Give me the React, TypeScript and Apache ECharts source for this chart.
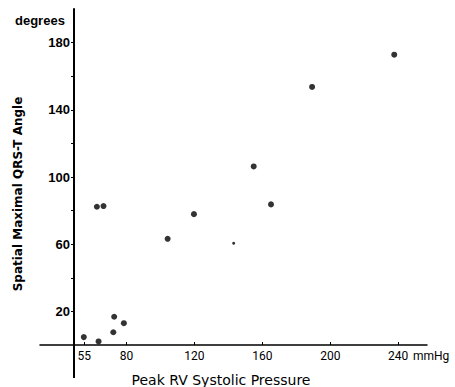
import React, { useEffect, useRef } from "react";
import * as echarts from "echarts";

const pressure = [54.8, 63.5, 72.7, 72.2, 78.4, 62.5, 66.4, 119.7, 104.2, 154.9, 165.1, 189.3, 237.7];
const angle = [4.7, 2.1, 16.8, 7.6, 13.0, 82.3, 82.7, 77.9, 63.2, 106.3, 83.7, 153.6, 172.8];
const smallPressure = [143.1];
const smallAngle = [60.6];
const xTickValues = [55, 80, 120, 160, 200, 240];
const yLabelValues = [20, 60, 100, 140, 180];
const yTickValues = [20, 40, 60, 80, 100, 120, 140, 160, 180];

export default function App() {
  const ref = useRef<HTMLDivElement>(null);
  useEffect(() => {
    if (!ref.current) return;
    const chart = echarts.init(ref.current, null, { renderer: "svg" });
    const main = pressure.map((p, i) => [p, angle[i]]);
    const small = smallPressure.map((p, i) => [p, smallAngle[i]]);
    chart.setOption({
      animation: false,
      backgroundColor: "#fff",
      grid: { left: 40, right: 28, top: 9, bottom: 42, outerBoundsMode: "none", containLabel: false },
      xAxis: {
        type: "value",
        min: 29,
        max: 257,
        splitLine: { show: false },
        axisLine: { onZero: false, lineStyle: { color: "#000", width: 1.5 } },
        axisTick: { show: true, inside: true, length: 3, customValues: xTickValues, lineStyle: { color: "#000" } },
        axisLabel: {
          customValues: xTickValues,
          color: "#000",
          fontFamily: "Roboto",
          fontSize: 12,
          margin: 5,
        },
      },
      yAxis: {
        type: "value",
        min: 0,
        max: 200,
        offset: -34,
        splitLine: { show: false },
        axisLine: { onZero: false, lineStyle: { color: "#000", width: 2 } },
        axisTick: { show: true, length: 3, customValues: yTickValues, lineStyle: { color: "#000" } },
        axisLabel: {
          customValues: yLabelValues,
          color: "#000",
          fontFamily: "Liberation Sans",
          fontWeight: "bold",
          fontSize: 13,
          margin: 4,
        },
      },
      graphic: [
        {
          type: "line",
          shape: { x1: 74, y1: 345, x2: 74, y2: 378 },
          style: { stroke: "#000", lineWidth: 2 },
        },
        {
          type: "text",
          left: 15,
          top: 14,
          style: { text: "degrees", fill: "#000", font: "bold 13px 'Liberation Sans'" },
        },
        {
          type: "text",
          x: 413,
          y: 350,
          style: { text: "mmHg", fill: "#000", font: "12px Roboto" },
        },
        {
          type: "text",
          x: 221,
          y: 380,
          style: {
            text: "Peak RV Systolic Pressure",
            fill: "#000",
            font: "14px 'DejaVu Sans'",
            align: "center",
            verticalAlign: "middle",
          },
        },
        {
          type: "text",
          x: 18,
          y: 194,
          rotation: Math.PI / 2,
          style: {
            text: "Spatial Maximal QRS-T Angle",
            fill: "#000",
            font: "bold 12px 'DejaVu Sans'",
            align: "center",
            verticalAlign: "middle",
          },
        },
      ],
      series: [
        {
          type: "scatter",
          data: main,
          symbol: "circle",
          symbolSize: 6,
          itemStyle: { color: "#000" },
        },
        {
          type: "scatter",
          data: small,
          symbol: "circle",
          symbolSize: 3,
          itemStyle: { color: "#000" },
        },
      ],
    });
    return () => chart.dispose();
  }, []);
  return <div ref={ref} style={{ width: 455, height: 387, position: "absolute", left: 0, top: 0 }} />;
}
